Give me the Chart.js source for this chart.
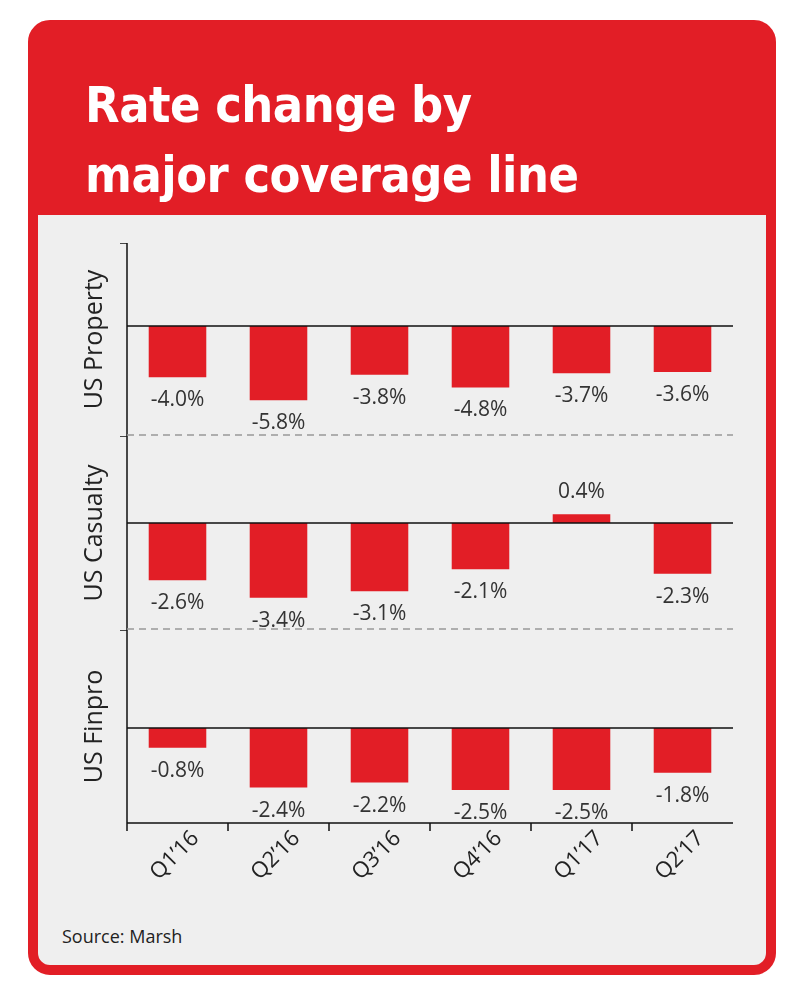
<!DOCTYPE html>
<html>
<head>
<meta charset="utf-8">
<script src="https://cdn.jsdelivr.net/npm/chart.js@4"></script>
<style>
  body { margin: 0; width: 800px; height: 994px; background: #fff; position: relative; overflow: hidden; }
  #frame { position: absolute; left: 28px; top: 20px; width: 728px; height: 935px; border: 10px solid #e21e26; border-radius: 22px; background: #efefef; }
  #head { position: absolute; left: 0; top: 0; width: 728px; height: 185px; background: #e21e26; }
  #title { position: absolute; left: 47px; top: 40px; color: #fff; font: bold 50px "Liberation Sans Narrow", "DejaVu Sans Condensed", sans-serif; line-height: 70px; letter-spacing: -0.5px; }
  #source { position: absolute; left: 62px; top: 924px; font: 18px "Open Sans", sans-serif; color: #222; }
  canvas { position: absolute; left: 0; }
</style>
</head>
<body>
<div id="frame"><div id="head"></div><div id="title">Rate change by<br>major coverage line</div></div>
<div id="source">Source: Marsh</div>
<canvas id="c1" style="top:243px"></canvas>
<canvas id="c2" style="top:436px"></canvas>
<canvas id="c3" style="top:630px"></canvas>
<script>
// Dữ liệu biểu đồ
const quarters = ['Q1\u201916', 'Q2\u201916', 'Q3\u201916', 'Q4\u201916', 'Q1\u201917', 'Q2\u201917'];
const lineNames = ['US Property', 'US Casualty', 'US Finpro'];
const usProperty = [-4.0, -5.8, -3.8, -4.8, -3.7, -3.6];
const usCasualty = [-2.6, -3.4, -3.1, -2.1, 0.4, -2.3];
const usFinpro = [-0.8, -2.4, -2.2, -2.5, -2.5, -1.8];

const RED = '#e21e26';
const FONT = '"Open Sans", sans-serif';

// Plugin vẽ trục, nhãn giá trị và nhãn quý
const decor = {
  id: 'decor',
  afterDraw(chart, args, opts) {
    const ctx = chart.ctx, a = chart.chartArea;
    const x = chart.scales.x, y = chart.scales.y;
    const zero = y.getPixelForValue(0);
    ctx.save();
    ctx.strokeStyle = '#111';
    ctx.lineWidth = 1.5;
    ctx.beginPath();
    ctx.moveTo(a.left, a.top); ctx.lineTo(a.left, a.bottom);
    ctx.moveTo(a.left - 7, a.top); ctx.lineTo(a.left, a.top);
    ctx.moveTo(a.left, zero); ctx.lineTo(a.right, zero);
    ctx.stroke();
    if (opts.dashed) {
      ctx.strokeStyle = '#999';
      ctx.setLineDash([7, 5]);
      ctx.beginPath();
      ctx.moveTo(a.left, a.bottom - 1); ctx.lineTo(a.right, a.bottom - 1);
      ctx.stroke();
      ctx.setLineDash([]);
    }
    // nhãn giá trị
    ctx.fillStyle = '#333';
    ctx.font = '21px ' + FONT;
    ctx.textAlign = 'center';
    ctx.textBaseline = 'middle';
    chart.data.datasets[0].data.forEach((v, i) => {
      const px = x.getPixelForValue(i);
      const py = y.getPixelForValue(v);
      ctx.fillText(v.toFixed(1) + '%', px, v < 0 ? py + 23 : py - 22);
    });
    // tên dòng bảo hiểm
    ctx.save();
    ctx.translate(a.left - 32, (a.top + a.bottom) / 2);
    ctx.rotate(-Math.PI / 2);
    ctx.font = '25px ' + FONT;
    ctx.fillStyle = '#222';
    ctx.fillText(opts.name, 0, 0);
    ctx.restore();
    if (opts.xLabels) {
      ctx.strokeStyle = '#111';
      ctx.beginPath();
      const step = (a.right - a.left) / quarters.length;
      for (let i = 0; i < quarters.length; i++) {
        const tx = a.left + step * i;
        ctx.moveTo(tx, a.bottom); ctx.lineTo(tx, a.bottom + 8);
      }
      ctx.moveTo(a.left, a.bottom); ctx.lineTo(a.right - step + step, a.bottom);
      ctx.stroke();
      ctx.font = '22px ' + FONT;
      ctx.fillStyle = '#222';
      ctx.textAlign = 'right';
      quarters.forEach((q, i) => {
        ctx.save();
        ctx.translate(x.getPixelForValue(i) + 18, a.bottom + 12);
        ctx.rotate(-Math.PI / 4);
        ctx.fillText(q, 0, 0);
        ctx.restore();
      });
    }
    ctx.restore();
  }
};

function makeChart(id, height, values, min, max, name, dashed, xLabels) {
  const canvas = document.getElementById(id);
  canvas.style.width = '800px';
  canvas.style.height = height + 'px';
  new Chart(canvas, {
    type: 'bar',
    data: {
      labels: quarters,
      datasets: [{ data: values, backgroundColor: RED, barPercentage: 0.57, categoryPercentage: 1 }]
    },
    options: {
      responsive: false,
      animation: false,
      layout: { padding: { left: 127, right: 67, top: 0, bottom: xLabels ? height - 193 : 0 } },
      plugins: { legend: { display: false }, tooltip: { enabled: false }, decor: { name, dashed, xLabels } },
      scales: {
        x: { display: false },
        y: { display: false, min, max }
      }
    },
    plugins: [decor]
  });
}

makeChart('c1', 193, usProperty, -8.6, 6.5, lineNames[0], true, false);
makeChart('c2', 194, usCasualty, -4.86, 3.95, lineNames[1], true, false);
makeChart('c3', 270, usFinpro, -3.83, 3.95, lineNames[2], false, true);
</script>
</body>
</html>
